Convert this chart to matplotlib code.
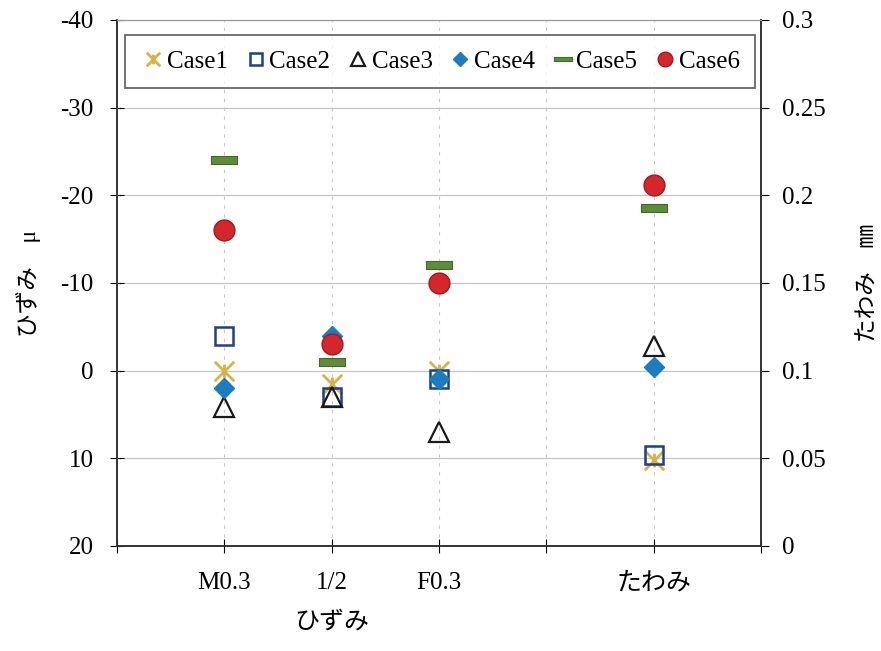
import matplotlib
matplotlib.use("Agg")
import matplotlib.pyplot as plt
from matplotlib.path import Path

plt.rcParams["font.family"] = ["Liberation Serif", "Noto Sans CJK JP"]
plt.rcParams["axes.unicode_minus"] = False

# strain columns (left axis, μ) and deflection column (right axis, mm)
strain_x = [1, 2, 3]
defl_x = [5]
tick_pos = [1, 2, 3, 5]
tick_labels = ["M0.3", "1/2", "F0.3", "たわみ"]

cases = ["Case1", "Case2", "Case3", "Case4", "Case5", "Case6"]
strain = {
    "Case1": [0.0, 1.5, 0.0],
    "Case2": [-4.0, 3.0, 1.0],
    "Case3": [4.1, 3.0, 7.0],
    "Case4": [2.0, -4.0, 1.0],
    "Case5": [-24.0, -1.0, -12.0],
    "Case6": [-16.0, -3.0, -10.0],
}
deflection = {
    "Case1": [0.049],
    "Case2": [0.052],
    "Case3": [0.114],
    "Case4": [0.102],
    "Case5": [0.193],
    "Case6": [0.206],
}

# marker shapes
star_path = Path(
    [(-1, -1), (1, 1), (-1, 1), (1, -1), (0, -0.7), (0, 0.7)],
    [Path.MOVETO, Path.LINETO, Path.MOVETO, Path.LINETO, Path.MOVETO, Path.LINETO],
)
bar_path = Path(
    [(-1, -0.27), (1, -0.27), (1, 0.27), (-1, 0.27), (-1, -0.27)],
    [Path.MOVETO, Path.LINETO, Path.LINETO, Path.LINETO, Path.CLOSEPOLY],
)
styles = {
    "Case1": dict(marker=star_path, ms=14, mfc="none", mec="#D6B443", mew=2.0),
    "Case2": dict(marker="s", ms=13, mfc="none", mec="#1F3F8A", mew=1.8),
    "Case3": dict(marker="^", ms=15, mfc="none", mec="#1a1a1a", mew=1.6),
    "Case4": dict(marker="D", ms=10.5, mfc="#1B7CC2", mec="#1B7CC2", mew=1.0),
    "Case5": dict(marker=bar_path, ms=19, mfc="#5E8C3A", mec="#3F6A28", mew=0.8),
    "Case6": dict(marker="o", ms=15, mfc="#D5262B", mec="#9E1A1E", mew=1.0),
}

fig = plt.figure(figsize=(8.81, 6.51), dpi=100)
ax = fig.add_axes([0.1328, 0.1613, 0.7310, 0.8080])
ax2 = ax.twinx()

ax.set_xlim(0, 6)
ax.set_ylim(20, -40)
ax2.set_ylim(0, 0.3)

ax.set_yticks([-40, -30, -20, -10, 0, 10, 20])
ax2.set_yticks([0, 0.05, 0.1, 0.15, 0.2, 0.25, 0.3])
ax2.set_yticklabels(["0", "0.05", "0.1", "0.15", "0.2", "0.25", "0.3"])

# ticks at every integer, labels only on the measured columns
xt = list(range(0, 7))
xl = [tick_labels[tick_pos.index(v)] if v in tick_pos else "" for v in xt]
ax.set_xticks(xt)
ax.set_xticklabels(xl, fontsize=18)

ax.grid(axis="y", color="#c4c4c4", lw=0.9)
for xv in [1, 2, 3, 4, 5]:
    ax.axvline(xv, color="#c8c8c8", lw=0.8, ls=(0, (3, 5)), zorder=0)

handles = []
for c in cases:
    h, = ax.plot(strain_x, strain[c], ls="none", label=c, zorder=3, **styles[c])
    ax2.plot(defl_x, deflection[c], ls="none", zorder=3, **styles[c])
    handles.append(h)

ax.tick_params(axis="y", direction="inout", length=10, labelsize=18, pad=12)
ax.tick_params(axis="x", direction="inout", length=10, pad=14)
ax2.tick_params(axis="y", direction="out", length=6, labelsize=18, pad=9)
for a in (ax, ax2):
    for s in ("left", "right", "bottom"):
        a.spines[s].set_color("#333333")
        a.spines[s].set_linewidth(1.2)
    a.spines["top"].set_color("#999999")

ax.set_ylabel("ひずみ　μ", fontsize=17, labelpad=14)
ax2.set_ylabel("たわみ　㎜", fontsize=17, rotation=90, labelpad=24)
ax.text(2, -0.125, "ひずみ", transform=ax.get_xaxis_transform(), ha="center",
        va="top", fontsize=18)

leg = ax.legend(handles=handles, ncol=6, loc="center", mode="expand",
                bbox_to_anchor=(0.012, 0.867, 0.978, 0.108), fontsize=18,
                frameon=True, fancybox=False, handletextpad=0.0, handlelength=1.1,
                columnspacing=0.5, borderaxespad=0.0, borderpad=0.6, markerscale=0.7)
leg.get_frame().set_edgecolor("#333333")
leg.get_frame().set_linewidth(1.2)
leg.set_zorder(5)

fig.savefig("out.png", dpi=100)
